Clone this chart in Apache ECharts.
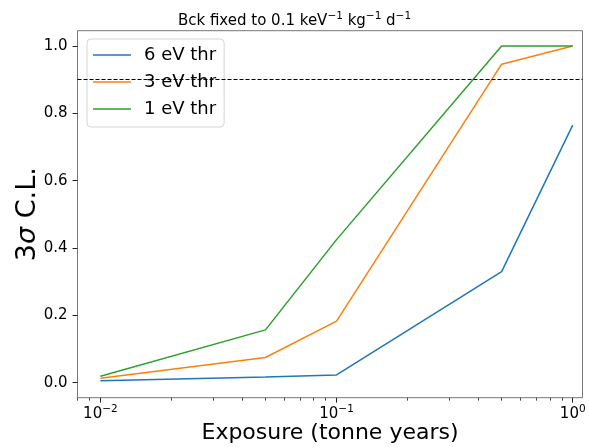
<!DOCTYPE html>
<html>
<head>
<meta charset="utf-8">
<script src="https://cdn.jsdelivr.net/npm/echarts@6/dist/echarts.min.js"></script>
<style>
  html, body { margin: 0; padding: 0; background: #fff; }
  #chart { width: 589px; height: 447px; }
</style>
</head>
<body>
<div id="chart"></div>
<script>
// Exposure values (tonne years)
const exposure = [0.01, 0.05, 0.1, 0.5, 1];

// 3-sigma confidence level per detection threshold
const thr6eV = [0.006, 0.017, 0.023, 0.330, 0.765];
const thr3eV = [0.013, 0.075, 0.183, 0.946, 1.0];
const thr1eV = [0.019, 0.157, 0.425, 1.0, 1.0];

const seriesNames = ['6 eV thr', '3 eV thr', '1 eV thr'];
const seriesColors = ['#1f77b4', '#ff7f0e', '#2ca02c'];

// Horizontal reference level
const referenceLevel = 0.9;

// Axis ticks
const xMajorTicks = [0.01, 0.1, 1];
const xMinorTicks = [0.008, 0.009, 0.02, 0.03, 0.04, 0.05, 0.06, 0.07, 0.08, 0.09,
                     0.2, 0.3, 0.4, 0.5, 0.6, 0.7, 0.8, 0.9];
const yTicks = [0, 0.2, 0.4, 0.6, 0.8, 1.0];

const FONT = 'DejaVu Sans';

function pairs(ys) {
  return exposure.map((x, i) => [x, ys[i]]);
}

const superRich = {
  b: { fontSize: 15, fontFamily: FONT, fontWeight: 'normal', color: '#000', lineHeight: 18, verticalAlign: 'bottom' },
  s: { fontSize: 10.5, fontFamily: FONT, fontWeight: 'normal', color: '#000', lineHeight: 10, verticalAlign: 'top', padding: [0, 0, 11, 0] }
};

const chart = echarts.init(document.getElementById('chart'), null, { renderer: 'canvas' });

const option = {
  animation: false,
  backgroundColor: '#fff',
  title: {
    left: 'center',
    top: 6,
    text: '{b|Bck fixed to 0.1 keV}{s|−1}{b| kg}{s|−1}{b| d}{s|−1}',
    textStyle: { fontWeight: 'normal', fontFamily: FONT, rich: superRich }
  },
  legend: {
    orient: 'vertical',
    left: 87,
    top: 39,
    selectedMode: false,
    icon: 'rect',
    itemWidth: 38,
    itemHeight: 1.5,
    itemGap: 9,
    padding: [7, 8, 9, 6],
    backgroundColor: 'rgba(255,255,255,0.8)',
    borderColor: '#d6d6d6',
    borderWidth: 1,
    borderRadius: 4,
    textStyle: { fontFamily: FONT, fontSize: 18, color: '#000', lineHeight: 18, padding: [0, 0, 0, 8] },
    data: seriesNames
  },
  grid: {
    left: 77.5,
    right: 6.5,
    top: 30.7,
    bottom: 49.3,
    containLabel: false,
    outerBoundsMode: 'none',
    show: true,
    borderColor: '#777',
    borderWidth: 1,
    backgroundColor: 'transparent'
  },
  xAxis: [
    {
      type: 'log',
      logBase: 10,
      min: 0.008,
      max: 1.10,
      name: 'Exposure (tonne years)',
      nameLocation: 'middle',
      nameGap: 25,
      nameMoveOverlap: false,
      nameTextStyle: { fontFamily: FONT, fontSize: 22, color: '#000' },
      axisLine: { show: false, onZero: false },
      splitLine: { show: false },
      axisTick: {
        show: true, inside: false, length: 5,
        customValues: xMajorTicks,
        lineStyle: { color: '#222', width: 1 }
      },
      axisLabel: {
        show: true,
        margin: 6,
        customValues: xMajorTicks,
        formatter: function (v) {
          const e = Math.round(Math.log10(v));
          const s = e < 0 ? '−' + (-e) : String(e);
          return '{b|10}{s|' + s + '}';
        },
        rich: superRich
      }
    },
    {
      type: 'log',
      logBase: 10,
      min: 0.008,
      max: 1.10,
      gridIndex: 0,
      position: 'bottom',
      axisLine: { show: false, onZero: false },
      splitLine: { show: false },
      axisLabel: { show: false },
      axisTick: {
        show: true, inside: false, length: 3,
        customValues: xMinorTicks,
        lineStyle: { color: '#222', width: 0.8 }
      }
    }
  ],
  yAxis: {
    type: 'value',
    min: -0.0445,
    max: 1.0455,
    name: '3{i|σ} C.L.',
    nameLocation: 'middle',
    nameGap: 36,
    nameMoveOverlap: false,
    nameTextStyle: {
      fontFamily: FONT, fontSize: 27, color: '#000',
      rich: { i: { fontFamily: FONT, fontSize: 27, fontStyle: 'italic', color: '#000' } }
    },
    axisLine: { show: false, onZero: false },
    splitLine: { show: false },
    axisTick: {
      show: true, inside: false, length: 5,
      customValues: yTicks,
      lineStyle: { color: '#222', width: 1 }
    },
    axisLabel: {
      show: true,
      margin: 10,
      customValues: yTicks,
      fontFamily: FONT, fontSize: 15, color: '#000',
      formatter: v => v.toFixed(1)
    }
  },
  series: [thr6eV, thr3eV, thr1eV].map((ys, i) => {
    const s = {
      name: seriesNames[i],
      type: 'line',
      xAxisIndex: 0,
      data: pairs(ys),
      showSymbol: false,
      symbol: 'none',
      color: seriesColors[i],
      lineStyle: { width: 1.5, color: seriesColors[i] },
      z: 2 + i
    };
    if (i === 0) {
      s.markLine = {
        silent: true,
        symbol: 'none',
        label: { show: false },
        lineStyle: { color: '#000', type: [4, 2], width: 1 },
        data: [{ yAxis: referenceLevel }]
      };
    }
    return s;
  })
};

chart.setOption(option);
</script>
</body>
</html>
